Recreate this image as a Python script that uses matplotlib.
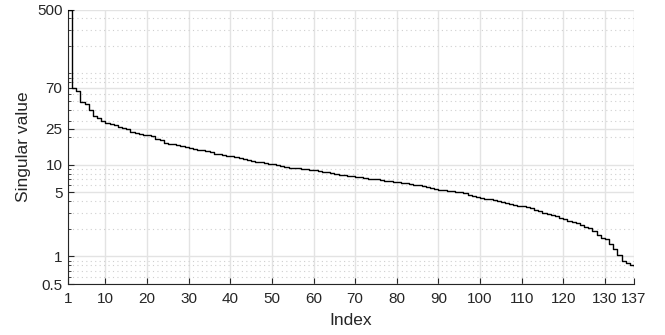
import matplotlib
matplotlib.use("Agg")
import matplotlib.pyplot as plt
from matplotlib.ticker import FixedLocator, LogLocator, NullFormatter

plt.rcParams['font.family'] = ['Liberation Sans', 'DejaVu Sans']

singular_values = [
    500, 68.5, 64, 49, 46, 40, 34.5, 33, 30, 29,
    28, 27, 26, 25.5, 24.5, 23, 22.5, 22, 21.5, 21.2,
    20.5, 19, 18.7, 17.5, 17, 16.8, 16.5, 16.1, 15.7, 15.3,
    15, 14.7, 14.4, 14.1, 13.8, 13.3, 13.1, 12.9, 12.6, 12.4,
    12.2, 11.9, 11.6, 11.3, 11.1, 10.9, 10.7, 10.5, 10.3, 10.2,
    10.0, 9.8, 9.5, 9.3, 9.25, 9.15, 9.05, 8.95, 8.85, 8.75,
    8.6, 8.45, 8.3, 8.1, 7.95, 7.85, 7.75, 7.6, 7.5, 7.4,
    7.3, 7.2, 7.1, 7.0, 6.95, 6.85, 6.75, 6.65, 6.55, 6.47,
    6.38, 6.28, 6.18, 6.08, 5.98, 5.85, 5.72, 5.6, 5.48, 5.36,
    5.3, 5.22, 5.15, 5.07, 5.0, 4.88, 4.75, 4.6, 4.45, 4.35,
    4.28, 4.2, 4.12, 4.05, 3.95, 3.85, 3.75, 3.67, 3.58, 3.52,
    3.45, 3.35, 3.25, 3.15, 3.0, 2.92, 2.85, 2.75, 2.65, 2.55,
    2.45, 2.38, 2.3, 2.22, 2.12, 2.05, 1.88, 1.73, 1.6, 1.55,
    1.37, 1.2, 1.03, 0.9, 0.84, 0.81, 0.79,
]
indices = list(range(1, len(singular_values) + 1))

x_ticks = [1, 10, 20, 30, 40, 50, 60, 70, 80, 90, 100, 110, 120, 130, 137]
y_ticks = [0.5, 1, 5, 10, 25, 70, 500]
y_tick_labels = ['0.5', '1', '5', '10', '25', '70', '500']

fig = plt.figure(figsize=(6.65, 3.35), dpi=100)
ax = fig.add_axes([68/665, 1 - 284/335, (634 - 68)/665, (284 - 9.5)/335])

ax.step(indices, singular_values, where='post', color='black', linewidth=1.0, zorder=3)

ax.set_yscale('log')
ax.set_xlim(1, 137)
ax.set_ylim(0.5, 500)

ax.xaxis.set_major_locator(FixedLocator(x_ticks))
ax.set_xticklabels([str(t) for t in x_ticks])
ax.yaxis.set_major_locator(FixedLocator(y_ticks))
ax.set_yticklabels(y_tick_labels)
ax.yaxis.set_minor_locator(LogLocator(base=10, subs=range(1, 10), numticks=20))
ax.yaxis.set_minor_formatter(NullFormatter())

for side in ['top', 'right']:
    ax.spines[side].set_visible(False)
for side in ['left', 'bottom']:
    ax.spines[side].set_color('#262626')
    ax.spines[side].set_linewidth(0.8)

ax.tick_params(which='major', direction='in', length=4.5, width=0.8,
               colors='#262626', labelsize=11, labelcolor='#262626')
ax.tick_params(which='minor', direction='in', length=2.5, width=0.6, colors='#262626')
ax.tick_params(axis='x', pad=6)
ax.tick_params(axis='y', pad=4)

ax.grid(which='major', color='#e3e3e3', linewidth=1.0, linestyle='-', zorder=0)
ax.grid(which='minor', axis='y', color='#cfcfcf', linewidth=0.8, linestyle=(0, (1, 3)), zorder=0)
ax.set_axisbelow(True)

ax.set_xlabel('Index', fontsize=12.5, color='#262626', labelpad=5)
ax.set_ylabel('Singular value', fontsize=12.5, color='#262626', labelpad=4)

fig.savefig('out.png', dpi=100)
